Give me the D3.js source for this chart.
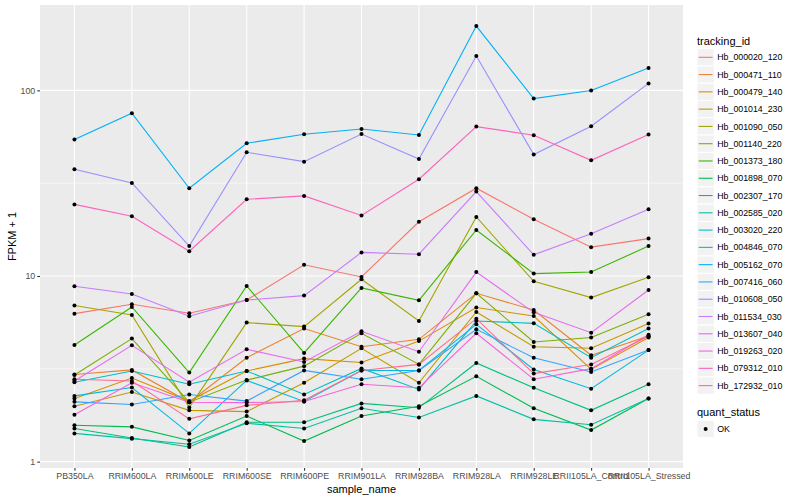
<!DOCTYPE html>
<html><head><meta charset="utf-8">
<script src="https://cdn.jsdelivr.net/npm/d3@7"></script>
<style>body{margin:0;background:#fff;} text{font-family:"Liberation Sans",Arial,Helvetica,sans-serif;}</style>
</head><body><svg id="c" width="800" height="500"></svg>
<script>
const categories = ["PB350LA","RRIM600LA","RRIM600LE","RRIM600SE","RRIM600PE","RRIM901LA","RRIM928BA","RRIM928LA","RRIM928LE","RRII105LA_Control","RRII105LA_Stressed"];
const seriesNames = ["Hb_000020_120","Hb_000471_110","Hb_000479_140","Hb_001014_230","Hb_001090_050","Hb_001140_220","Hb_001373_180","Hb_001898_070","Hb_002307_170","Hb_002585_020","Hb_003020_220","Hb_004846_070","Hb_005162_070","Hb_007416_060","Hb_010608_050","Hb_011534_030","Hb_013607_040","Hb_019263_020","Hb_079312_010","Hb_172932_010"];
const seriesColors = ["#F8766D","#EA8331","#D89000","#C09B00","#A3A500","#7CAE00","#39B600","#00BB4E","#00BF7D","#00C1A3","#00BFC4","#00BAE0","#00B0F6","#35A2FF","#9590FF","#C77CFF","#E76BF3","#FA62DB","#FF62BC","#FF6C91"];
const yTicks = [1, 10, 100];
const statusLevels = ["OK"];

const hb_000020_120 = [6.27, 7.04, 6.30, 7.42, 11.5, 9.88, 19.6, 29.7, 20.2, 14.3, 15.9];
const hb_000471_110 = [2.95, 3.12, 2.09, 3.63, 5.21, 4.16, 4.56, 8.07, 6.56, 3.74, 4.75];
const hb_000479_140 = [2.19, 2.82, 2.12, 3.08, 3.59, 3.42, 4.46, 6.76, 6.09, 3.14, 4.66];
const hb_001014_230 = [1.99, 2.37, 1.89, 1.86, 2.66, 4.08, 2.66, 6.40, 4.16, 4.08, 5.54];
const hb_001090_050 = [6.93, 6.17, 1.96, 5.61, 5.34, 9.60, 5.72, 20.8, 9.36, 7.65, 9.84];
const hb_001140_220 = [2.93, 4.60, 2.09, 2.75, 3.27, 4.91, 3.34, 8.07, 4.41, 4.66, 6.22];
const hb_001373_180 = [4.25, 6.81, 3.02, 8.84, 3.85, 8.62, 7.40, 17.7, 10.3, 10.5, 14.5];
const hb_001898_070 = [1.57, 1.54, 1.30, 1.76, 1.29, 1.76, 1.99, 2.88, 1.94, 1.48, 2.19];
const hb_002307_170 = [1.51, 1.34, 1.20, 1.63, 1.63, 2.06, 1.95, 3.40, 2.50, 1.89, 2.61];
const hb_002585_020 = [1.42, 1.33, 1.24, 1.61, 1.51, 1.94, 1.73, 2.26, 1.69, 1.58, 2.19];
const hb_003020_220 = [2.68, 3.08, 2.61, 3.08, 2.30, 3.18, 2.45, 5.72, 5.56, 3.63, 5.21];
const hb_004846_070 = [2.26, 2.51, 1.42, 2.74, 2.11, 3.10, 3.10, 5.49, 3.14, 2.47, 3.99];
const hb_005162_070 = [54.3, 75.3, 29.7, 51.9, 58.0, 61.9, 57.5, 222, 90.3, 99.7, 132];
const hb_007416_060 = [2.10, 2.03, 2.30, 2.12, 3.10, 2.78, 3.10, 5.16, 3.63, 3.04, 3.99];
const hb_010608_050 = [37.6, 31.7, 14.5, 46.4, 41.3, 58.2, 42.7, 153, 45.1, 64.1, 109];
const hb_011534_030 = [8.80, 8.00, 6.07, 7.42, 7.84, 13.4, 13.1, 28.5, 13.0, 16.9, 22.9];
const hb_013607_040 = [2.72, 4.23, 2.68, 4.03, 3.44, 5.04, 3.91, 10.5, 6.37, 4.95, 8.41];
const hb_019263_020 = [1.79, 2.66, 2.09, 2.08, 2.11, 2.61, 2.50, 4.91, 2.78, 3.17, 4.83];
const hb_079312_010 = [24.3, 21.0, 13.6, 25.9, 27.0, 21.2, 33.2, 63.8, 57.3, 42.0, 57.8];
const hb_172932_010 = [2.78, 2.72, 1.70, 2.01, 2.14, 3.10, 3.34, 5.89, 2.98, 3.34, 4.73];

const seriesValues = [hb_000020_120, hb_000471_110, hb_000479_140, hb_001014_230, hb_001090_050,
  hb_001140_220, hb_001373_180, hb_001898_070, hb_002307_170, hb_002585_020, hb_003020_220,
  hb_004846_070, hb_005162_070, hb_007416_060, hb_010608_050, hb_011534_030, hb_013607_040,
  hb_019263_020, hb_079312_010, hb_172932_010];

const series = seriesNames.map((name, i) => ({
  name, color: seriesColors[i],
  points: categories.map((c, j) => ({cat: c, v: seriesValues[i][j]}))
}));

const svg = d3.select("#c");
const P = {left: 40, right: 683, top: 5, bottom: 468};

// log extent with 5% expansion (as ggplot)
const allV = seriesValues.flat();
const lo = Math.log10(d3.min(allV)), hi = Math.log10(d3.max(allV));
const pad = (hi - lo) * 0.05;
const y = d3.scaleLog().domain([Math.pow(10, lo - pad), Math.pow(10, hi + pad)]).range([P.bottom, P.top]);
const x = d3.scalePoint().domain(categories).range([P.left, P.right]).padding(0.6);

// panel
svg.append("rect").attr("x", P.left).attr("y", P.top).attr("width", P.right - P.left)
  .attr("height", P.bottom - P.top).attr("fill", "#EBEBEB");

const grid = svg.append("g");
// minor y grid
[Math.pow(10, 0.5), Math.pow(10, 1.5)].forEach(v => {
  grid.append("line").attr("x1", P.left).attr("x2", P.right).attr("y1", y(v)).attr("y2", y(v))
    .attr("stroke", "#fff").attr("stroke-width", 0.55);
});
yTicks.forEach(v => {
  grid.append("line").attr("x1", P.left).attr("x2", P.right).attr("y1", y(v)).attr("y2", y(v))
    .attr("stroke", "#fff").attr("stroke-width", 1.1);
});
categories.forEach(c => {
  grid.append("line").attr("x1", x(c)).attr("x2", x(c)).attr("y1", P.top).attr("y2", P.bottom)
    .attr("stroke", "#fff").attr("stroke-width", 1.1);
});

// lines
const line = d3.line().x(d => x(d.cat)).y(d => y(d.v));
svg.append("g").selectAll("path").data(series).join("path")
  .attr("d", d => line(d.points)).attr("fill", "none")
  .attr("stroke", d => d.color).attr("stroke-width", 1.1);

// points
svg.append("g").selectAll("g").data(series).join("g")
  .selectAll("circle").data(d => d.points).join("circle")
  .attr("cx", d => x(d.cat)).attr("cy", d => y(d.v)).attr("r", 2).attr("fill", "#000");

// axes
const yAxis = d3.axisLeft(y).tickValues(yTicks).tickFormat(d3.format("d")).tickSize(2.75).tickPadding(2);
const gy = svg.append("g").attr("transform", `translate(${P.left},0)`).call(yAxis);
gy.select(".domain").remove();
gy.selectAll("line").attr("stroke", "#333333").attr("stroke-width", 1.07);
gy.selectAll("text").attr("fill", "#4D4D4D").style("font-size", "8.8px");

const xAxis = d3.axisBottom(x).tickSize(2.75).tickPadding(2.2);
const gx = svg.append("g").attr("transform", `translate(0,${P.bottom})`).call(xAxis);
gx.select(".domain").remove();
gx.selectAll("line").attr("stroke", "#333333").attr("stroke-width", 1.07);
gx.selectAll("text").attr("fill", "#4D4D4D").style("font-size", "8.8px");

svg.append("text").attr("x", (P.left + P.right) / 2).attr("y", 493).attr("text-anchor", "middle")
  .style("font-size", "11px").attr("fill", "#000").text("sample_name");
svg.append("text").attr("transform", `translate(16,${(P.top + P.bottom) / 2}) rotate(-90)`)
  .attr("text-anchor", "middle").style("font-size", "11px").attr("fill", "#000").text("FPKM + 1");

// legend tracking_id
const lg = svg.append("g");
const kx = 697, k0 = 57.3, ks = 17.28;
lg.append("text").attr("x", kx).attr("y", 45).style("font-size", "11px").attr("fill", "#000").text("tracking_id");
series.forEach((s, i) => {
  const cy = k0 + i * ks;
  lg.append("rect").attr("x", kx).attr("y", cy - ks / 2).attr("width", ks).attr("height", ks)
    .attr("fill", "#F2F2F2").attr("stroke", "#fff").attr("stroke-width", 1);
  lg.append("line").attr("x1", kx + 1.7).attr("x2", kx + ks - 1.7).attr("y1", cy).attr("y2", cy)
    .attr("stroke", s.color).attr("stroke-width", 1.1);
  lg.append("text").attr("x", kx + ks + 3).attr("y", cy + 3.1).style("font-size", "8.8px")
    .attr("fill", "#000").text(s.name);
});
// legend quant_status
lg.append("text").attr("x", kx).attr("y", 416).style("font-size", "11px").attr("fill", "#000").text("quant_status");
statusLevels.forEach((lvl, i) => {
  const cy = 429 + i * ks;
  lg.append("rect").attr("x", kx).attr("y", cy - ks / 2).attr("width", ks).attr("height", ks)
    .attr("fill", "#F2F2F2").attr("stroke", "#fff").attr("stroke-width", 1);
  lg.append("circle").attr("cx", kx + ks / 2).attr("cy", cy).attr("r", 2).attr("fill", "#000");
  lg.append("text").attr("x", kx + ks + 3).attr("y", cy + 3.1).style("font-size", "8.8px")
    .attr("fill", "#000").text(lvl);
});
</script></body></html>
